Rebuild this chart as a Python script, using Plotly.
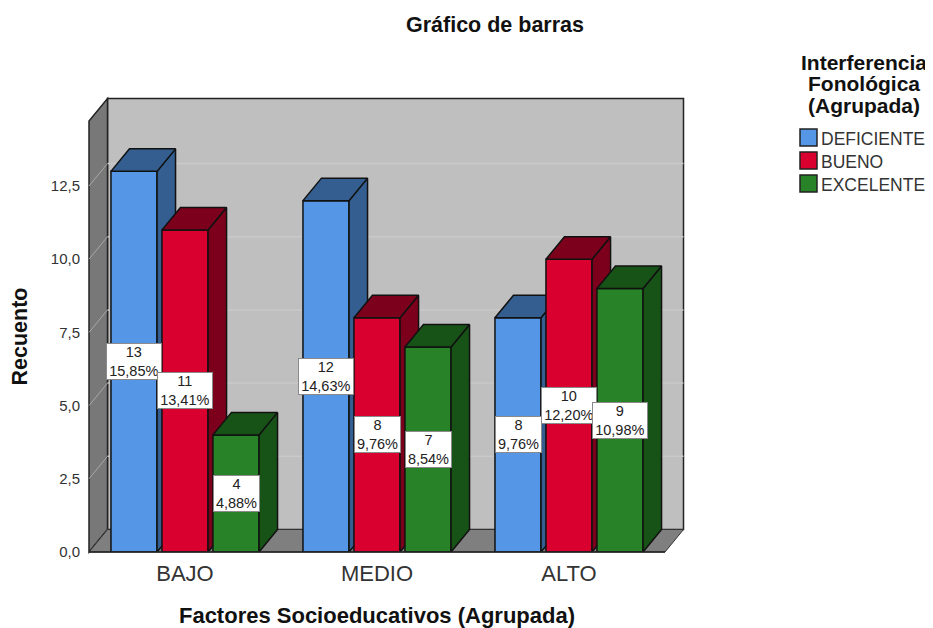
import plotly.graph_objects as go

categories = ["BAJO", "MEDIO", "ALTO"]
series_names = ["DEFICIENTE", "BUENO", "EXCELENTE"]
deficiente = [13, 12, 8]
bueno = [11, 8, 10]
excelente = [4, 7, 9]
pct_deficiente = ["15,85%", "14,63%", "9,76%"]
pct_bueno = ["13,41%", "9,76%", "12,20%"]
pct_excelente = ["4,88%", "8,54%", "10,98%"]
y_ticks = [0, 2.5, 5, 7.5, 10, 12.5]

values = [deficiente, bueno, excelente]
percents = [pct_deficiente, pct_bueno, pct_excelente]
front_colors = ["#5596E6", "#D9002F", "#288228"]
side_colors = ["#345E90", "#7C001C", "#175217"]
offsets = [-0.2656, 0.0, 0.2656]
bar_w = 0.24

PAGE = 8  # the page's own body margin
W, H = 933 - PAGE, 628 - PAGE
L, R, T, B = 89 - PAGE, 665 - PAGE, 121 - PAGE, 552 - PAGE
dx = 18.5 / 192.0           # depth in x units
dy = 22.5 / 29.28           # depth in y units
x0, x1 = -0.5, 2.5
y_max = 14.72
EDGE = "#111111"
FONT = "Liberation Sans"


def px(v):
    return (v - PAGE - L) / (R - L)


def py(v):
    return (B - (v - PAGE)) / (B - T)


def dxp(v):  # data x to paper fraction of the front plane
    return (v - x0) / (x1 - x0)


def dyp(v):  # data y to paper fraction of the front plane
    return v / y_max


def wall(xs, ys, fill, edge, width):
    path = "M" + "L".join(f"{dxp(a)},{dyp(b)}" for a, b in zip(xs, ys)) + "Z"
    return dict(type="path", layer="below", xref="paper", yref="paper", path=path,
                fillcolor=fill, line=dict(color=edge, width=width))


def rule(xa, xb, ya, yb, color, width, layer="below"):
    return dict(type="line", layer=layer, xref="paper", yref="paper",
                x0=dxp(xa), x1=dxp(xb), y0=dyp(ya), y1=dyp(yb),
                line=dict(color=color, width=width))


shapes = [
    wall([x0 + dx, x1 + dx, x1 + dx, x0 + dx], [dy, dy, y_max + dy, y_max + dy],
         "#BFBFBF", "#222222", 1.5),
    wall([x0, x0 + dx, x0 + dx, x0], [0, dy, y_max + dy, y_max], "#787878", "#222222", 1.5),
    wall([x0, x0 + dx, x1 + dx, x1], [0, dy, dy, 0], "#7F7F7F", "#333333", 1),
]
for t in y_ticks[1:]:
    shapes.append(rule(x0 + dx, x1 + dx, t + dy, t + dy, "#C9C9C9", 1.5))
    shapes.append(rule(x0, x0 + dx, t, t + dy, "#A8A8A8", 1))
shapes.append(rule(x0, x1, 0, 0, "#222222", 1.5, "above"))

fig = go.Figure()
# the base axes carry the ticks and titles; each series draws on its own overlay so that
# the next series' front face hides the previous one's side face
fig.add_trace(go.Scatter(x=[None], y=[None], mode="lines", hoverinfo="skip", showlegend=False))

axis_names = [("x2", "y2"), ("x3", "y3"), ("x4", "y4")]
for s, (xa, ya) in enumerate(axis_names):
    xs = [i + offsets[s] for i in range(len(categories))]
    fig.add_trace(go.Bar(x=xs, y=values[s], width=bar_w, name=series_names[s],
                         xaxis=xa, yaxis=ya, showlegend=False,
                         marker=dict(color=front_colors[s], line=dict(color=EDGE, width=1.5)),
                         hovertemplate=series_names[s] + ": %{y}<extra></extra>"))
    for xc, v in zip(xs, values[s]):
        xl, xr = xc - bar_w / 2, xc + bar_w / 2
        fig.add_trace(go.Scatter(x=[xr, xr + dx, xr + dx, xr, xr], y=[0, dy, v + dy, v, 0],
                                 mode="lines", fill="toself", fillcolor=side_colors[s],
                                 line=dict(color=EDGE, width=1.5), xaxis=xa, yaxis=ya,
                                 cliponaxis=False, hoverinfo="skip", showlegend=False))
        fig.add_trace(go.Scatter(x=[xl, xl + dx, xr + dx, xr, xl], y=[v, v + dy, v + dy, v, v],
                                 mode="lines", fill="toself", fillcolor=side_colors[s],
                                 line=dict(color=EDGE, width=1.5), xaxis=xa, yaxis=ya,
                                 cliponaxis=False, hoverinfo="skip", showlegend=False))

annotations = []
for s in range(3):
    for i in range(3):
        pct = percents[s][i]
        annotations.append(dict(xref="x", yref="y", x=i + offsets[s], y=values[s][i] / 2,
                                text=f"{values[s][i]}<br>{pct}", showarrow=False,
                                font=dict(family=FONT, size=14.5, color="#222222"),
                                width=8.6 * len(pct) + 2, height=35,
                                bgcolor="white", bordercolor="#8A8A8A", borderwidth=1, borderpad=0,
                                align="center"))

for k, line in enumerate(["Interferencia", "Fonológica", "(Agrupada)"]):
    annotations.append(dict(xref="paper", yref="paper", xanchor="center", yanchor="middle",
                            x=px(864), y=py(62 + k * 21.5),
                            text=f"<b>{line}</b>", showarrow=False,
                            font=dict(family=FONT, size=21, color="#111111")))
for k, name in enumerate(series_names):
    cy = 137.5 + k * 23
    annotations.append(dict(xref="paper", yref="paper", xanchor="left", yanchor="middle",
                            x=px(819), y=py(cy + 1),
                            text=name, showarrow=False,
                            font=dict(family=FONT, size=17.5, color="#333333")))
    shapes.append(dict(type="rect", xref="paper", yref="paper", layer="above",
                       x0=px(800), x1=px(817), y0=py(cy - 8.5), y1=py(cy + 8.5),
                       fillcolor=front_colors[k], line=dict(color="#222222", width=1.5)))

overlay = dict(range=[x0, x1], overlaying="x", visible=False, fixedrange=True)
overlay_y = dict(range=[0, y_max], overlaying="y", visible=False, fixedrange=True)
fig.update_layout(
    width=W, height=H,
    autosize=False,
    paper_bgcolor="white", plot_bgcolor="rgba(0,0,0,0)",
    separators=", ",
    barmode="overlay",
    showlegend=False,
    margin=dict(l=L, r=W - R, t=T, b=H - B, pad=0),
    title=dict(text="<b>Gráfico de barras</b>", x=(495 - PAGE) / W, xanchor="center",
               y=1 - (24 - PAGE) / H, yanchor="middle",
               font=dict(family=FONT, size=21.5, color="#111111")),
    font=dict(family=FONT),
    xaxis=dict(range=[x0, x1], tickvals=[0, 1, 2], ticktext=categories, showgrid=False,
               automargin=False,
               zeroline=False, showline=False, ticks="outside", ticklen=2, tickcolor="rgba(0,0,0,0)",
               tickfont=dict(family=FONT, size=22, color="#333333"), fixedrange=True,
               title=dict(text="<b>Factores Socioeducativos (Agrupada)</b>", standoff=24,
                          font=dict(family=FONT, size=22, color="#111111"))),
    yaxis=dict(range=[0, y_max], tickvals=y_ticks, tickformat=".1f", showgrid=False,
               automargin=False,
               zeroline=False, showline=False, ticks="outside", ticklen=5, tickcolor="rgba(0,0,0,0)",
               tickfont=dict(family=FONT, size=15, color="#333333"), fixedrange=True,
               title=dict(text="<b>Recuento</b>", standoff=18,
                          font=dict(family=FONT, size=21.5, color="#111111"))),
    xaxis2=dict(overlay, anchor="y2"), yaxis2=dict(overlay_y, anchor="x2"),
    xaxis3=dict(overlay, anchor="y3"), yaxis3=dict(overlay_y, anchor="x3"),
    xaxis4=dict(overlay, anchor="y4"), yaxis4=dict(overlay_y, anchor="x4"),
    shapes=shapes,
    annotations=annotations,
)
fig.write_html("out.html")
